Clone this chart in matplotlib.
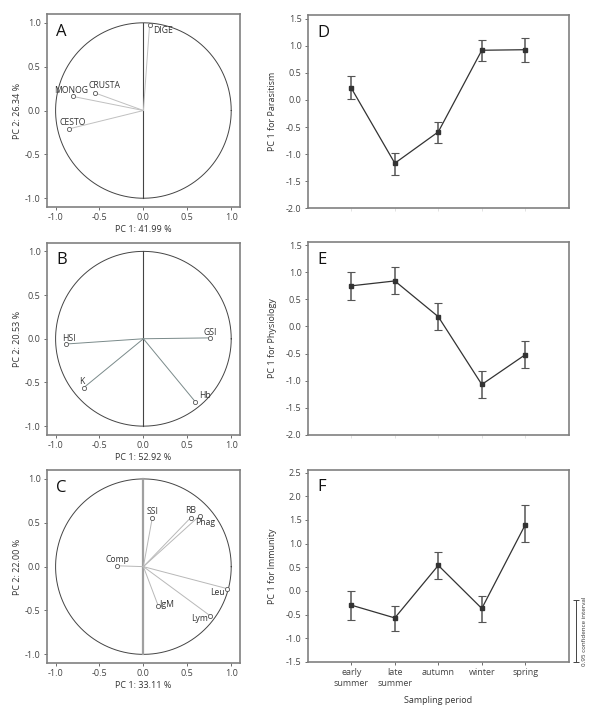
import numpy as np
import matplotlib
matplotlib.use('Agg')
import matplotlib.pyplot as plt

plt.rcParams['font.family'] = ['Open Sans', 'DejaVu Sans']
plt.rcParams['font.size'] = 6.5
plt.rcParams['text.color'] = '#333333'
plt.rcParams['axes.labelcolor'] = '#333333'
plt.rcParams['xtick.color'] = '#555555'
plt.rcParams['ytick.color'] = '#555555'
plt.rcParams['xtick.labelcolor'] = '#444444'
plt.rcParams['ytick.labelcolor'] = '#444444'

# PCA loadings
a_names = ['DIGE', 'CRUSTA', 'MONOG', 'CESTO']
a_x = [0.07, -0.55, -0.80, -0.85]
a_y = [0.97, 0.20, 0.16, -0.21]

b_names = ['HSI', 'GSI', 'K', 'Hb']
b_x = [-0.88, 0.76, -0.68, 0.59]
b_y = [-0.06, 0.01, -0.56, -0.72]

c_names = ['SSI', 'RB', 'Phag', 'Comp', 'Leu', 'IgM', 'Lym']
c_x = [0.10, 0.54, 0.64, -0.30, 0.95, 0.17, 0.76]
c_y = [0.55, 0.56, 0.58, 0.01, -0.25, -0.45, -0.56]

pc_labels = [('PC 1: 41.99 %', 'PC 2: 26.34 %'),
             ('PC 1: 52.92 %', 'PC 2: 20.53 %'),
             ('PC 1: 33.11 %', 'PC 2: 22.00 %')]

# seasonal means with 0.95 confidence intervals
periods = ['early\nsummer', 'late\nsummer', 'autumn', 'winter', 'spring']
parasitism = [0.22, -1.17, -0.59, 0.92, 0.93]
parasitism_lo = [0.01, -1.38, -0.80, 0.72, 0.70]
parasitism_hi = [0.44, -0.99, -0.41, 1.11, 1.15]
physiology = [0.75, 0.84, 0.18, -1.07, -0.52]
physiology_lo = [0.48, 0.59, -0.07, -1.32, -0.76]
physiology_hi = [1.01, 1.09, 0.43, -0.83, -0.26]
immunity = [-0.30, -0.57, 0.54, -0.37, 1.40]
immunity_lo = [-0.62, -0.85, 0.26, -0.65, 1.04]
immunity_hi = [0.00, -0.31, 0.83, -0.11, 1.81]
ci_scale = (-1.5, -0.2)

fig = plt.figure(figsize=(6, 7.2), dpi=100)

left_pos = [[0.078, 0.7125, 0.322, 0.268],
            [0.078, 0.396, 0.322, 0.267],
            [0.078, 0.079, 0.322, 0.268]]
right_pos = [[0.513, 0.711, 0.435, 0.268],
             [0.513, 0.396, 0.435, 0.268],
             [0.513, 0.0806, 0.435, 0.267]]


def style_axes(ax):
    for s in ax.spines.values():
        s.set_color('#808080')
        s.set_linewidth(1.2)
    ax.tick_params(length=2.5, width=0.6, labelsize=6.5, pad=2)


def pca_panel(ax, names, xs, ys, offsets, letter, labels, line_col, vline_col, vline_lw):
    style_axes(ax)
    t = np.linspace(0, 2 * np.pi, 400)
    ax.plot(np.cos(t), np.sin(t), color='#444444', lw=0.7)
    ax.plot([0, 0], [-1, 1], color=vline_col, lw=vline_lw)
    for n, x, y, (dx, dy, ha) in zip(names, xs, ys, offsets):
        ax.plot([0, x], [0, y], color=line_col, lw=0.7)
        ax.plot(x, y, 'o', ms=3, mfc='white', mec='#555555', mew=0.6)
        ax.text(x + dx, y + dy, n, fontsize=6.2, ha=ha, va='center')
    ax.set_xlim(-1.1, 1.1)
    ax.set_ylim(-1.1, 1.1)
    ax.set_xticks([-1.0, -0.5, 0.0, 0.5, 1.0])
    ax.set_yticks([-1.0, -0.5, 0.0, 0.5, 1.0])
    ax.set_xticklabels(['-1.0', '-0.5', '0.0', '0.5', '1.0'])
    ax.set_yticklabels(['-1.0', '-0.5', '0.0', '0.5', '1.0'])
    ax.set_xlabel(labels[0], fontsize=6.5, labelpad=2)
    ax.set_ylabel(labels[1], fontsize=6.5, labelpad=2)
    ax.text(0.05, 0.95, letter, transform=ax.transAxes, fontsize=12, va='top', ha='left', color='#111111')


axA = fig.add_axes(left_pos[0])
pca_panel(axA, a_names, a_x, a_y,
          [(0.04, -0.06, 'left'), (-0.07, 0.08, 'left'), (-0.02, 0.07, 'center'), (0.04, 0.07, 'center')],
          'A', pc_labels[0], '#c0c0c0', '#444444', 0.8)

axB = fig.add_axes(left_pos[1])
pca_panel(axB, b_names, b_x, b_y,
          [(0.03, 0.06, 'center'), (0.0, 0.06, 'center'), (-0.02, 0.07, 'center'), (0.05, 0.07, 'left')],
          'B', pc_labels[1], '#7a8a8a', '#444444', 0.8)

axC = fig.add_axes(left_pos[2])
pca_panel(axC, c_names, c_x, c_y,
          [(0.01, 0.08, 'center'), (0.0, 0.08, 'center'), (-0.05, -0.08, 'left'), (0.0, 0.07, 'center'),
           (-0.02, -0.05, 'right'), (0.10, 0.02, 'center'), (-0.02, -0.03, 'right')],
          'C', pc_labels[2], '#b8b8b8', '#a0a0a0', 1.6)


def season_panel(ax, vals, lo, hi, letter, ylabel, ylim, yticks, show_x):
    style_axes(ax)
    xs = np.arange(len(vals))
    vals = np.array(vals)
    err = [vals - np.array(lo), np.array(hi) - vals]
    ax.errorbar(xs, vals, yerr=err, fmt='s-', color='#333333', ms=2.5, lw=0.9,
                ecolor='#555555', elinewidth=1.1, capsize=3, capthick=0.8)
    ax.set_xlim(-1, 5)
    ax.set_ylim(*ylim)
    ax.set_yticks(yticks)
    ax.set_yticklabels(['%.1f' % v for v in yticks])
    ax.set_xticks(xs)
    if show_x:
        ax.set_xticklabels(periods, fontsize=6.5)
        ax.set_xlabel('Sampling period', fontsize=6.5, labelpad=6)
    else:
        ax.set_xticklabels([])
        ax.tick_params(axis='x', color='#dddddd')
    ax.set_ylabel(ylabel, fontsize=6.5, labelpad=6)
    ax.text(0.035, 0.95, letter, transform=ax.transAxes, fontsize=12, va='top', ha='left', color='#111111')


axD = fig.add_axes(right_pos[0])
season_panel(axD, parasitism, parasitism_lo, parasitism_hi, 'D', 'PC 1 for Parasitism',
             (-2.0, 1.57), [-2.0, -1.5, -1.0, -0.5, 0.0, 0.5, 1.0, 1.5], False)
axE = fig.add_axes(right_pos[1])
season_panel(axE, physiology, physiology_lo, physiology_hi, 'E', 'PC 1 for Physiology',
             (-2.0, 1.56), [-2.0, -1.5, -1.0, -0.5, 0.0, 0.5, 1.0, 1.5], False)
axF = fig.add_axes(right_pos[2])
season_panel(axF, immunity, immunity_lo, immunity_hi, 'F', 'PC 1 for Immunity',
             (-1.5, 2.56), [-1.5, -1.0, -0.5, 0.0, 0.5, 1.0, 1.5, 2.0, 2.5], True)

# confidence interval scale bar outside panel F
mid = (ci_scale[0] + ci_scale[1]) / 2
half = (ci_scale[1] - ci_scale[0]) / 2
axF.errorbar([5.17], [mid], yerr=[[half], [half]], fmt='none', ecolor='#444444',
             elinewidth=0.7, capsize=2.5, capthick=0.7, clip_on=False)
axF.text(5.35, mid, '0.95 confidence interval', rotation=90, fontsize=4.5,
         ha='center', va='center', clip_on=False)

fig.savefig('out.png', dpi=100)
print("Saved out.png")
